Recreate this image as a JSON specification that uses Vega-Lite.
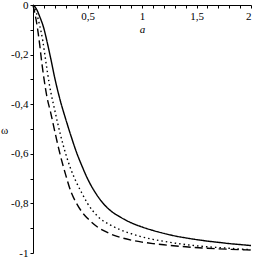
{
 "$schema": "https://vega.github.io/schema/vega-lite/v6.json",
 "width": 218, "height": 248,
 "autosize": {"type": "none"},
 "padding": {"left": 33, "top": 5, "right": 3, "bottom": 10},
 "config": {
  "view": {"stroke": null},
  "font": "Liberation Serif, Times New Roman, serif",
  "axis": {"domainColor": "#000", "tickColor": "#000", "labelColor": "#000", "titleColor": "#000", "grid": false,
   "labelFont": "Liberation Serif, Times New Roman, serif", "titleFont": "Liberation Serif, Times New Roman, serif", "labelFontSize": 11, "titleFontSize": 11,
   "titleFontWeight": "normal", "domainWidth": 1, "tickWidth": 1}
 },
 "data": {"values": [
  {"s":"1","a":0,"w":0},{"s":"1","a":0.03,"w":-0.015},{"s":"1","a":0.06,"w":-0.045},{"s":"1","a":0.1,"w":-0.095},{"s":"1","a":0.13,"w":-0.15},{"s":"1","a":0.16,"w":-0.21},{"s":"1","a":0.2,"w":-0.295},{"s":"1","a":0.25,"w":-0.385},{"s":"1","a":0.3,"w":-0.46},{"s":"1","a":0.35,"w":-0.53},{"s":"1","a":0.4,"w":-0.595},{"s":"1","a":0.45,"w":-0.65},{"s":"1","a":0.5,"w":-0.7},{"s":"1","a":0.6,"w":-0.775},{"s":"1","a":0.7,"w":-0.825},{"s":"1","a":0.8,"w":-0.855},{"s":"1","a":0.9,"w":-0.878},{"s":"1","a":1.0,"w":-0.895},{"s":"1","a":1.1,"w":-0.909},{"s":"1","a":1.2,"w":-0.921},{"s":"1","a":1.3,"w":-0.931},{"s":"1","a":1.4,"w":-0.939},{"s":"1","a":1.5,"w":-0.946},{"s":"1","a":1.6,"w":-0.952},{"s":"1","a":1.7,"w":-0.957},{"s":"1","a":1.8,"w":-0.962},{"s":"1","a":1.9,"w":-0.966},{"s":"1","a":2.0,"w":-0.97},
  {"s":"2","a":0,"w":0},{"s":"2","a":0.03,"w":-0.03},{"s":"2","a":0.06,"w":-0.08},{"s":"2","a":0.09,"w":-0.145},{"s":"2","a":0.12,"w":-0.235},{"s":"2","a":0.15,"w":-0.32},{"s":"2","a":0.2,"w":-0.425},{"s":"2","a":0.25,"w":-0.52},{"s":"2","a":0.3,"w":-0.6},{"s":"2","a":0.35,"w":-0.665},{"s":"2","a":0.4,"w":-0.717},{"s":"2","a":0.45,"w":-0.76},{"s":"2","a":0.5,"w":-0.8},{"s":"2","a":0.6,"w":-0.855},{"s":"2","a":0.7,"w":-0.885},{"s":"2","a":0.8,"w":-0.906},{"s":"2","a":0.9,"w":-0.922},{"s":"2","a":1.0,"w":-0.935},{"s":"2","a":1.1,"w":-0.945},{"s":"2","a":1.2,"w":-0.953},{"s":"2","a":1.3,"w":-0.96},{"s":"2","a":1.4,"w":-0.966},{"s":"2","a":1.5,"w":-0.971},{"s":"2","a":1.6,"w":-0.975},{"s":"2","a":1.7,"w":-0.978},{"s":"2","a":1.8,"w":-0.981},{"s":"2","a":1.9,"w":-0.984},{"s":"2","a":2.0,"w":-0.986},
  {"s":"3","a":0,"w":0},{"s":"3","a":0.02,"w":-0.04},{"s":"3","a":0.04,"w":-0.09},{"s":"3","a":0.06,"w":-0.155},{"s":"3","a":0.08,"w":-0.23},{"s":"3","a":0.1,"w":-0.295},{"s":"3","a":0.13,"w":-0.375},{"s":"3","a":0.16,"w":-0.43},{"s":"3","a":0.2,"w":-0.51},{"s":"3","a":0.25,"w":-0.605},{"s":"3","a":0.3,"w":-0.685},{"s":"3","a":0.35,"w":-0.755},{"s":"3","a":0.4,"w":-0.8},{"s":"3","a":0.45,"w":-0.835},{"s":"3","a":0.5,"w":-0.86},{"s":"3","a":0.6,"w":-0.898},{"s":"3","a":0.7,"w":-0.921},{"s":"3","a":0.8,"w":-0.937},{"s":"3","a":0.9,"w":-0.948},{"s":"3","a":1.0,"w":-0.956},{"s":"3","a":1.1,"w":-0.962},{"s":"3","a":1.2,"w":-0.967},{"s":"3","a":1.4,"w":-0.975},{"s":"3","a":1.6,"w":-0.981},{"s":"3","a":1.8,"w":-0.985},{"s":"3","a":2.0,"w":-0.988}
 ]},
 "mark": {"type": "line", "color": "#000", "strokeWidth": 1.4, "interpolate": "monotone"},
 "encoding": {
  "x": {"field": "a", "type": "quantitative", "scale": {"domain": [0, 2], "nice": false, "zero": false},
   "axis": {"orient": "bottom", "offset": -248, "values": [0,0.1,0.2,0.3,0.4,0.5,0.6,0.7,0.8,0.9,1,1.1,1.2,1.3,1.4,1.5,1.6,1.7,1.8,1.9,2],
    "labelExpr": "datum.value > 0 && abs(datum.value*2 - round(datum.value*2)) < 0.001 ? replace(format(datum.value, '~g'), '.', ',') : ''",
    "tickSize": 3, "labelPadding": 2, "title": "a", "titleFontStyle": "italic", "titlePadding": 2}},
  "y": {"field": "w", "type": "quantitative", "scale": {"domain": [-1, 0], "nice": false, "zero": false},
   "axis": {"values": [0,-0.1,-0.2,-0.3,-0.4,-0.5,-0.6,-0.7,-0.8,-0.9,-1],
    "labelExpr": "abs(datum.value*5 - round(datum.value*5)) < 0.001 ? (datum.value < 0 ? '-' : '') + replace(format(abs(datum.value), '~g'), '.', ',') : ''",
    "tickSize": 3, "labelPadding": 2, "title": "ω", "titleAngle": 0, "titleX": -29, "titleY": 125, "titleAlign": "center", "titleBaseline": "middle"}},
  "strokeDash": {"field": "s", "type": "nominal", "legend": null,
   "scale": {"domain": ["1", "2", "3"], "range": [[1, 0], [1.5, 3], [8, 4]]}}
 }
}
